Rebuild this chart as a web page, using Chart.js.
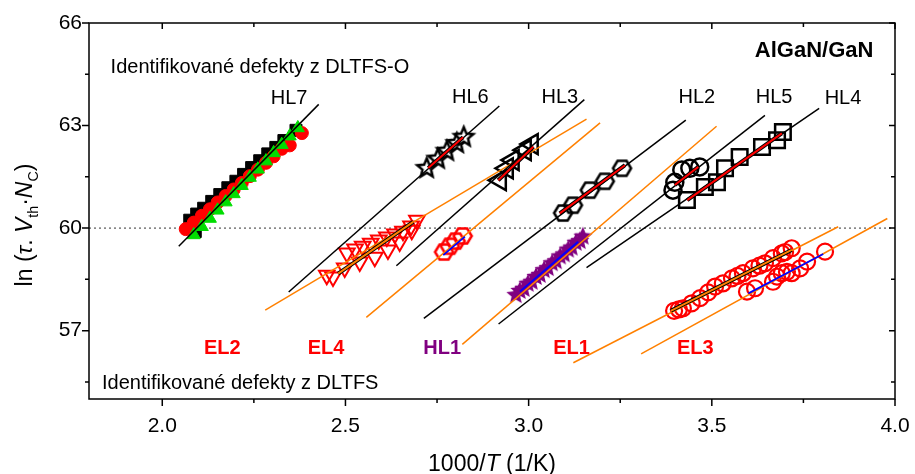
<!DOCTYPE html>
<html><head><meta charset="utf-8">
<script src="https://cdn.jsdelivr.net/npm/chart.js@4/dist/chart.umd.min.js"></script>
<style>html,body{margin:0;padding:0;background:#fff}#wrap{width:915px;height:474px;position:relative}</style>
</head><body><div id="wrap"><canvas id="c" width="915" height="474"></canvas></div>
<script>
// ---------------- data (1000/T, ln(tau*Vth*Nc)) ----------------
const xMajorTicks = [2.0, 2.5, 3.0, 3.5, 4.0];
const xMinorTicks = [2.25, 2.75, 3.25, 3.75];
const yMajorTicks = [57, 60, 63, 66];
const yMinorTicks = [55.5, 58.5, 61.5, 64.5];

// HL7 (DLTFS-O) - three measurement sets
const hl7Squares = [[2.075,60.23],[2.090,59.90],[2.094,60.41],[2.113,60.58],[2.135,60.78],[2.157,60.98],[2.179,61.18],[2.201,61.37],[2.222,61.57],[2.244,61.77],[2.266,61.97],[2.288,62.17],[2.310,62.36],[2.332,62.56],[2.365,62.86]];
const hl7Circles = [[2.064,59.97],[2.086,60.16],[2.108,60.36],[2.130,60.55],[2.151,60.75],[2.173,60.94],[2.195,61.13],[2.217,61.32],[2.239,61.52],[2.261,61.71],[2.283,61.91],[2.304,62.10],[2.326,62.32],[2.348,62.42],[2.381,62.78]];
const hl7Triangles = [[2.086,59.80],[2.108,60.04],[2.130,60.28],[2.151,60.52],[2.173,60.76],[2.195,61.00],[2.217,61.24],[2.239,61.48],[2.261,61.72],[2.283,61.96],[2.304,62.20],[2.326,62.44],[2.348,62.69],[2.370,62.93]];
const hl6Stars = [[2.722,61.75],[2.752,62.02],[2.777,62.25],[2.804,62.48],[2.823,62.66]];
const hl3Triangles = [[2.922,61.40],[2.941,61.75],[2.957,61.99],[2.990,62.28],[3.009,62.46]];
const hl2Hexagons = [[3.094,60.44],[3.121,60.67],[3.167,61.11],[3.208,61.37],[3.255,61.75]];
const hl5Circles = [[3.394,61.11],[3.399,61.34],[3.418,61.70],[3.440,61.75],[3.467,61.79]];
const hl4Squares = [[3.432,60.82],[3.481,61.20],[3.514,61.34],[3.536,61.75],[3.576,62.08],[3.637,62.37],[3.678,62.57],[3.694,62.81]];
// DLTFS
const el4Triangles = [[2.449,58.62],[2.466,58.57],[2.498,58.83],[2.539,59.01],[2.580,59.15],[2.616,59.36],[2.648,59.59],[2.681,59.94],
  [2.504,59.27],[2.526,59.39],[2.547,59.47],[2.569,59.56],[2.591,59.65],[2.613,59.74],[2.635,59.83],[2.657,59.91],[2.679,60.06],[2.695,60.23]];
const redHexagons = [[2.769,59.30],[2.785,59.47],[2.801,59.62],[2.820,59.77]];
const hl1Stars = [[2.965,58.04],[2.976,58.16],[2.987,58.22],[2.998,58.37],[3.009,58.43],[3.020,58.57],[3.031,58.63],[3.042,58.77],[3.053,58.83],[3.064,58.97],[3.075,59.03],[3.086,59.17],[3.097,59.23],[3.108,59.37],[3.118,59.43],[3.129,59.57],[3.140,59.62],[3.148,59.75]];
const el3UpperCircles = [[3.397,57.58],[3.410,57.62],[3.421,57.65],[3.445,57.80],[3.468,57.95],[3.490,58.12],[3.509,58.29],[3.530,58.38],[3.555,58.53],[3.570,58.60],[3.585,58.68],[3.612,58.82],[3.630,58.90],[3.645,58.97],[3.667,59.12],[3.691,59.26],[3.700,59.30],[3.718,59.41]];
const el3LowerCircles = [[3.596,58.14],[3.618,58.24],[3.667,58.43],[3.678,58.58],[3.691,58.68],[3.705,58.72],[3.718,58.68],[3.741,58.82],[3.760,59.02],[3.809,59.31]];

// fitted / reference lines (end points)
const blackGuides = [
  [[2.045,59.47],[2.427,63.62]],   // HL7
  [[2.345,58.13],[2.920,63.57]],   // HL6
  [[2.639,58.90],[3.152,63.76]],   // HL3
  [[2.714,57.36],[3.429,63.16]],   // HL2
  [[2.918,57.195],[3.645,63.30]],  // HL5
  [[3.158,58.84],[3.793,63.50]]    // HL4
];
const orangeGuides = [
  [[2.281,57.60],[3.158,63.19]],   // EL4
  [[2.557,57.39],[3.195,63.08]],
  [[2.819,56.60],[3.513,62.98]],   // HL1
  [[3.122,56.06],[3.845,60.04]],   // EL1
  [[3.307,56.32],[3.979,60.28]]    // EL3
];
const redFits = [
  [[2.726,61.76],[2.821,62.66]],
  [[2.917,61.40],[3.013,62.38]],
  [[3.085,60.43],[3.263,61.84]],
  [[3.399,61.26],[3.463,61.79]],
  [[3.433,60.82],[3.691,62.77]]
];
const blueFits = [
  [[2.767,59.21],[2.826,59.75]],
  [[2.976,58.14],[3.135,59.60]],
  [[3.600,58.09],[3.804,59.24]]
];
const blackOrangeFits = [
  [[2.480,58.67],[2.685,60.18]],
  [[3.388,57.58],[3.718,59.36]]
];
const refLine60 = [[1.8,60],[4.0,60]];

const annotations = [
  {text:'Identifikované defekty z DLTFS-O', x:1.859, y:64.55, align:'left', color:'#000', weight:'normal', size:20},
  {text:'AlGaN/GaN', x:3.941, y:65.0, align:'right', color:'#000', weight:'bold', size:22},
  {text:'HL7', x:2.346, y:63.62, align:'center', color:'#000', weight:'normal', size:20},
  {text:'HL6', x:2.841, y:63.65, align:'center', color:'#000', weight:'normal', size:20},
  {text:'HL3', x:3.085, y:63.65, align:'center', color:'#000', weight:'normal', size:20},
  {text:'HL2', x:3.459, y:63.65, align:'center', color:'#000', weight:'normal', size:20},
  {text:'HL5', x:3.670, y:63.65, align:'center', color:'#000', weight:'normal', size:20},
  {text:'HL4', x:3.858, y:63.62, align:'center', color:'#000', weight:'normal', size:20},
  {text:'EL2', x:2.164, y:56.32, align:'center', color:'#ff0000', weight:'bold', size:20},
  {text:'EL4', x:2.447, y:56.32, align:'center', color:'#ff0000', weight:'bold', size:20},
  {text:'HL1', x:2.764, y:56.32, align:'center', color:'#800080', weight:'bold', size:20},
  {text:'EL1', x:3.117, y:56.32, align:'center', color:'#ff0000', weight:'bold', size:20},
  {text:'EL3', x:3.455, y:56.32, align:'center', color:'#ff0000', weight:'bold', size:20},
  {text:'Identifikované defekty z DLTFS', x:1.8355, y:55.29, align:'left', color:'#000', weight:'normal', size:20}
];

// ---------------- rendering ----------------
const FONT = "'Liberation Sans', Arial, Helvetica, sans-serif";
const ORANGE = '#ff8000';

function makeHex(stroke, w, h, lw) {
  const c = document.createElement('canvas');
  c.width = Math.ceil(w + 2 * lw); c.height = Math.ceil(h + 2 * lw);
  const g = c.getContext('2d');
  const cx = c.width / 2, cy = c.height / 2, a = w / 2, b = h / 2;
  g.beginPath();
  g.moveTo(cx - a, cy); g.lineTo(cx - a / 2, cy - b); g.lineTo(cx + a / 2, cy - b);
  g.lineTo(cx + a, cy); g.lineTo(cx + a / 2, cy + b); g.lineTo(cx - a / 2, cy + b); g.closePath();
  g.lineWidth = lw; g.strokeStyle = stroke; g.stroke();
  return c;
}
function makeStar(fill, stroke, R, r, lw) {
  const c = document.createElement('canvas');
  c.width = c.height = Math.ceil(2 * R + 2 * lw + 2);
  const g = c.getContext('2d');
  const cx = c.width / 2, cy = c.height / 2;
  g.beginPath();
  for (let i = 0; i < 10; i++) {
    const rad = (i % 2 === 0) ? R : r;
    const ang = -Math.PI / 2 + i * Math.PI / 5;
    const px = cx + rad * Math.cos(ang), py = cy + rad * Math.sin(ang);
    if (i === 0) g.moveTo(px, py); else g.lineTo(px, py);
  }
  g.closePath();
  if (fill) { g.fillStyle = fill; g.fill(); }
  if (stroke) { g.lineWidth = lw; g.strokeStyle = stroke; g.lineJoin = 'miter'; g.stroke(); }
  return c;
}

const pts = a => a.map(([x, y]) => ({x, y}));
const datasets = [];
function addLine(p, color, width, order, dash) {
  datasets.push({data: pts(p), showLine: true, borderColor: color, borderWidth: width, pointRadius: 0,
    borderDash: dash || [], order: order, fill: false, tension: 0});
}
function addMarkers(p, style, radius, bg, border, bw, order, rot) {
  datasets.push({data: pts(p), showLine: false, pointStyle: style, pointRadius: radius,
    pointBackgroundColor: bg, pointBorderColor: border, pointBorderWidth: bw, pointRotation: rot || 0, order: order});
}

addLine(refLine60, '#333', 1, 30, [2, 3]);
addMarkers(hl7Squares, 'rect', 8.5, '#000', '#000', 1, 12);
addMarkers(hl7Circles, 'circle', 6.5, '#ff0000', '#ff0000', 1, 11);
addMarkers(hl7Triangles, 'triangle', 7.5, '#00dd00', '#00dd00', 1, 10);
addMarkers(hl6Stars, makeStar('#fff', '#000', 10, 4.5, 2.5), 8, '#fff', '#000', 2, 10);
addMarkers(hl3Triangles, 'triangle', 11.5, 'rgba(0,0,0,0)', '#000', 2.5, 10, 270);
addMarkers(hl2Hexagons, makeHex('#000', 18, 15, 2.5), 8, '#fff', '#000', 2, 10);
addMarkers(hl5Circles, 'circle', 8.5, 'rgba(0,0,0,0)', '#000', 2.5, 10);
addMarkers(hl4Squares, 'rect', 11, 'rgba(0,0,0,0)', '#000', 2.5, 10);
addMarkers(el4Triangles, 'triangle', 9, 'rgba(0,0,0,0)', '#ff0000', 2, 10, 180);
addMarkers(redHexagons, makeHex('#ff0000', 18, 15, 2.5), 8, '#fff', '#ff0000', 2, 10);
addMarkers(hl1Stars, makeStar('#800080', null, 10, 4.5, 0), 8, '#800080', '#800080', 1, 10);
addMarkers(el3UpperCircles, 'circle', 8, 'rgba(0,0,0,0)', '#ff0000', 2.2, 10);
addMarkers(el3LowerCircles, 'circle', 8, 'rgba(0,0,0,0)', '#ff0000', 2.2, 10);
blackGuides.forEach(l => addLine(l, '#000', 1.5, 6));
orangeGuides.forEach(l => addLine(l, ORANGE, 1.5, 6));
redFits.forEach(l => { addLine(l, '#000', 4, 4); addLine(l, '#ff0000', 2, 3); });
blueFits.forEach(l => addLine(l, '#0000ff', 1.8, 3));
blackOrangeFits.forEach(l => { addLine(l, '#000', 4, 4); addLine(l, ORANGE, 2, 3); });

function drawRich(ctx, segs, size) {
  const parts = segs.map(s => {
    const fs = s.sub ? size * 0.62 : size;
    const font = (s.italic ? 'italic ' : '') + fs + 'px ' + FONT;
    ctx.font = font;
    return {t: s.t, font, w: ctx.measureText(s.t).width, dy: s.sub ? size * 0.28 : 0};
  });
  const total = parts.reduce((a, p) => a + p.w, 0);
  let x = -total / 2;
  ctx.textAlign = 'left'; ctx.textBaseline = 'alphabetic';
  parts.forEach(p => { ctx.font = p.font; ctx.fillText(p.t, x, p.dy); x += p.w; });
}

const decorPlugin = {
  id: 'decor',
  afterDraw(chart) {
    const ctx = chart.ctx, xs = chart.scales.x, ys = chart.scales.y;
    const {left, right, top, bottom} = chart.chartArea;
    ctx.save();
    ctx.strokeStyle = '#000'; ctx.lineWidth = 1.5;
    ctx.strokeRect(left, top, right - left, bottom - top);
    ctx.beginPath();
    const tick = (x1, y1, x2, y2) => { ctx.moveTo(x1, y1); ctx.lineTo(x2, y2); };
    xMajorTicks.forEach(v => { const p = xs.getPixelForValue(v); tick(p, bottom, p, bottom + 7); tick(p, top, p, top + 6); });
    xMinorTicks.forEach(v => { const p = xs.getPixelForValue(v); tick(p, bottom, p, bottom + 4); tick(p, top, p, top + 4); });
    yMajorTicks.forEach(v => { const p = ys.getPixelForValue(v); tick(left, p, left - 7, p); tick(right, p, right - 6, p); });
    yMinorTicks.forEach(v => { const p = ys.getPixelForValue(v); tick(left, p, left - 4, p); tick(right, p, right - 4, p); });
    ctx.stroke();

    // annotations
    annotations.forEach(a => {
      ctx.font = a.weight + ' ' + a.size + 'px ' + FONT;
      ctx.fillStyle = a.color; ctx.textAlign = a.align; ctx.textBaseline = 'alphabetic';
      ctx.fillText(a.text, xs.getPixelForValue(a.x), ys.getPixelForValue(a.y));
    });

    // axis titles
    ctx.fillStyle = '#000';
    ctx.save();
    ctx.translate((left + right) / 2, 471);
    drawRich(ctx, [{t: '1000/'}, {t: 'T', italic: true}, {t: ' (1/K)'}], 23);
    ctx.restore();
    ctx.save();
    ctx.translate(32, 225);
    ctx.rotate(-Math.PI / 2);
    drawRich(ctx, [{t: 'ln ('}, {t: 'τ', italic: true}, {t: '. '}, {t: 'V', italic: true}, {t: 'th', sub: true}, {t: '·'},
      {t: 'N', italic: true}, {t: 'C', sub: true}, {t: ')'}], 23);
    ctx.restore();
    ctx.restore();
  }
};

new Chart(document.getElementById('c'), {
  type: 'scatter',
  data: {datasets},
  options: {
    responsive: false, animation: false, events: [],
    layout: {padding: {left: 0, right: 20, top: 23, bottom: 0}},
    plugins: {legend: {display: false}, tooltip: {enabled: false}},
    scales: {
      x: {
        type: 'linear', min: 1.8, max: 4.0,
        grid: {display: false, drawTicks: false}, border: {display: false},
        afterBuildTicks: s => { s.ticks = xMajorTicks.concat(xMinorTicks).sort((a, b) => a - b).map(v => ({value: v})); },
        afterFit: s => { s.height = 75; s.paddingLeft = 0; s.paddingRight = 0; },
        ticks: {padding: 15, color: '#000', font: {family: FONT, size: 21},
          callback: v => xMajorTicks.includes(v) ? v.toFixed(1) : '', maxRotation: 0, autoSkip: false}
      },
      y: {
        type: 'linear', min: 55, max: 66,
        grid: {display: false, drawTicks: false}, border: {display: false},
        afterBuildTicks: s => { s.ticks = yMinorTicks.concat(yMajorTicks).sort((a, b) => a - b).map(v => ({value: v})); },
        afterFit: s => { s.width = 89; s.paddingTop = 0; s.paddingBottom = 0; },
        ticks: {padding: 7, color: '#000', font: {family: FONT, size: 21},
          callback: v => yMajorTicks.includes(v) ? String(v) : '', autoSkip: false}
      }
    }
  },
  plugins: [decorPlugin]
});
</script>
</body></html>
